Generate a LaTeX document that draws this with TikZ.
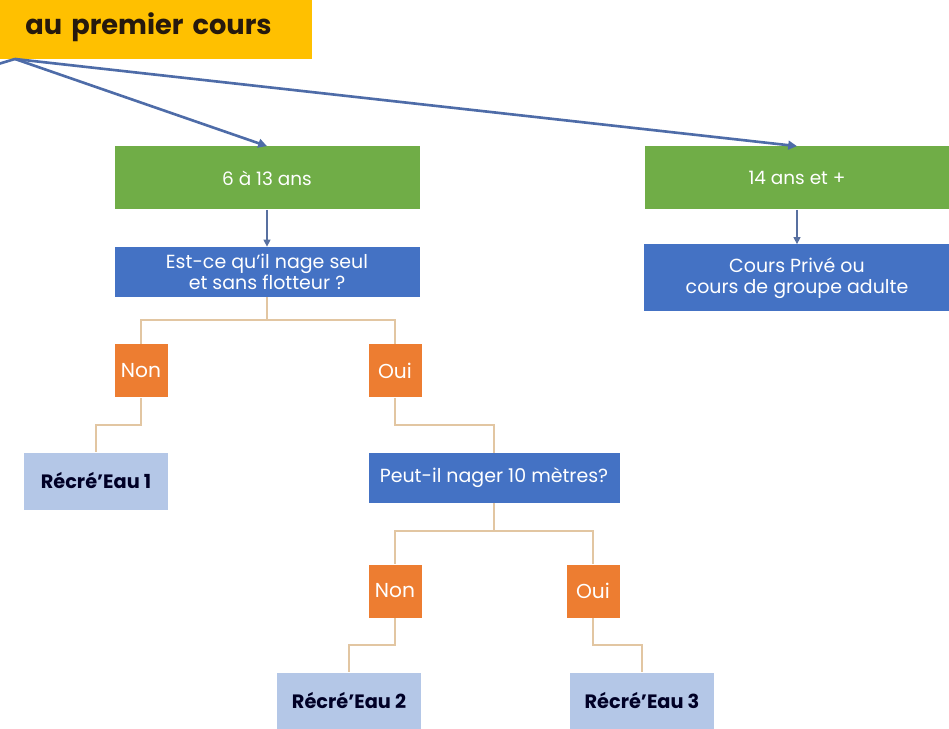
\documentclass[tikz,border=0pt]{standalone}
\usepackage{fontspec}
\setmainfont{Poppins}
\usetikzlibrary{positioning,arrows.meta}

\definecolor{jaune}{RGB}{255,192,0}
\definecolor{vert}{RGB}{112,173,71}
\definecolor{bleu}{RGB}{68,114,196}
\definecolor{orange}{RGB}{237,125,49}
\definecolor{bleuclair}{RGB}{180,199,231}
\definecolor{trait}{RGB}{226,198,162}
\definecolor{fleche}{RGB}{78,108,168}

\begin{document}
\begin{tikzpicture}[node distance=2cm,on grid,
  age/.style={rectangle,fill=vert,text=white,minimum width=6.1cm,minimum height=1.26cm,font=\fontsize{10.5}{12}\selectfont},
  question/.style={rectangle,fill=bleu,text=white,align=center,minimum width=6.1cm,minimum height=1cm,inner ysep=2pt,font=\fontsize{10.8}{12}\selectfont},
  reponse/.style={rectangle,fill=orange,text=white,minimum size=1.06cm,inner sep=0pt,font=\fontsize{11.5}{13}\selectfont},
  groupe/.style={rectangle,fill=bleuclair,text=black!85!blue,minimum width=2.88cm,minimum height=1.14cm,font=\fontsize{11}{13}\selectfont\bfseries},
  lien/.style={draw=trait,line width=1.1pt},
  choix/.style={draw=fleche,line width=1.5pt,-{Triangle[length=5pt,width=5pt]}},
  suite/.style={draw=fleche!80!gray,line width=0.6pt,-{Triangle[length=4pt,width=4pt]}}]
\useasboundingbox (0,0) rectangle (18.98,-14.58);

\node[fill=jaune,anchor=east,minimum width=9cm,minimum height=1.3cm,inner xsep=0.8cm,align=right,text width=7.4cm,font=\fontsize{15.5}{17}\selectfont\bfseries,text=black!80!brown] (titre) at (6.24,-0.54) {au premier cours};
\coordinate (depart) at (0.3,-1.18);
\coordinate (gauche) at (-0.6,-1.45);

\node[age] (jeune) at (5.34,-3.56) {6 à 13 ans};
\node[age] (ado) [right=10.6cm of jeune] {14 ans et +};
\node[question] (seul) [below=1.88cm of jeune] {Est-ce qu'il nage seul\\et sans flotteur ?};
\node[question,minimum width=6.12cm,minimum height=1.34cm] (prive) [below=2cm of ado] {Cours Privé ou\\cours de groupe adulte};

\node[reponse] (non1) [below left=1.98cm and 2.52cm of seul] {Non};
\node[reponse] (oui1) [below right=1.98cm and 2.56cm of seul] {Oui};
\node[groupe] (eau1) [below left=2.2cm and 0.9cm of non1] {Récré'Eau 1};
\node[question,minimum width=5.02cm] (dix) [below right=2.14cm and 1.98cm of oui1] {Peut-il nager 10 mètres?};
\node[reponse] (non2) [below left=2.26cm and 1.98cm of dix] {Non};
\node[reponse] (oui2) [below right=2.26cm and 1.98cm of dix] {Oui};
\node[groupe] (eau2) [below left=2.2cm and 0.92cm of non2] {Récré'Eau 2};
\node[groupe] (eau3) [below right=2.2cm and 0.98cm of oui2] {Récré'Eau 3};

% fleches du haut
\draw[choix] (depart) -- (jeune.north);
\draw[choix] (depart) -- (ado.north);
\draw[line width=1.5pt,draw=fleche] (depart) -- (gauche);
\draw[suite] (jeune) -- (seul);
\draw[suite] (ado) -- (prive);

% arbre de decision
\draw[lien] (seul.south) -- ++(0,-0.46) -| (non1.north);
\draw[lien] (seul.south) -- ++(0,-0.46) -| (oui1.north);
\draw[lien] (non1.south) -- ++(0,-0.54) -| (eau1.north);
\draw[lien] (oui1.south) -- ++(0,-0.54) -| (dix.north);
\draw[lien] (dix.south) -- ++(0,-0.56) -| (non2.north);
\draw[lien] (dix.south) -- ++(0,-0.56) -| (oui2.north);
\draw[lien] (non2.south) -- ++(0,-0.54) -| (eau2.north);
\draw[lien] (oui2.south) -- ++(0,-0.54) -| (eau3.north);
\end{tikzpicture}
\end{document}
